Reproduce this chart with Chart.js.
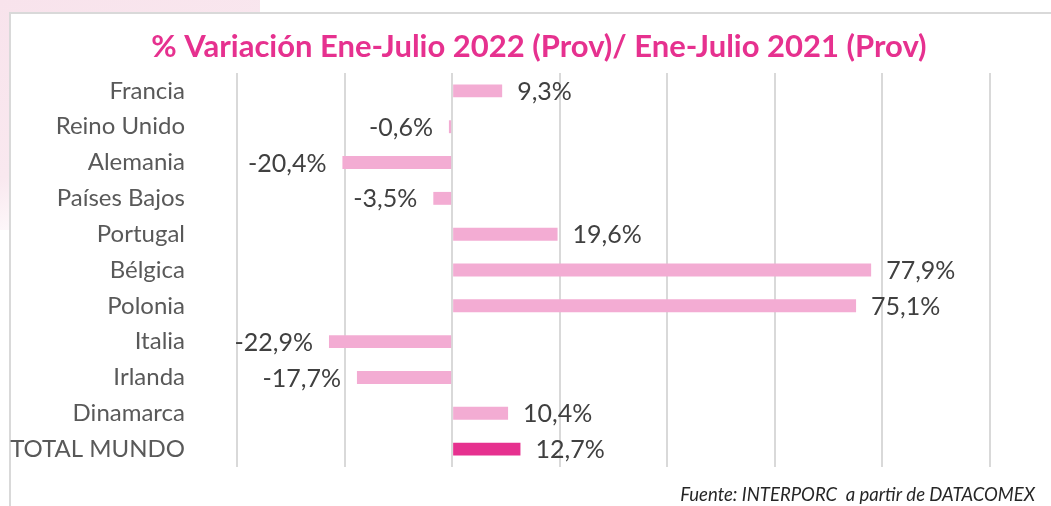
<!DOCTYPE html>
<html lang="es">
<head>
<meta charset="utf-8">
<title>% Variación Ene-Julio 2022 (Prov)/ Ene-Julio 2021 (Prov)</title>
<script src="https://cdn.jsdelivr.net/npm/chart.js@4.4.0/dist/chart.umd.min.js"></script>
<style>
  html, body {
    margin: 0;
    padding: 0;
    background: #ffffff;
  }
  #page {
    position: relative;
    width: 1051px;
    height: 506px;
    overflow: hidden;
    background: #ffffff;
  }
  /* franja rosa de fondo en la esquina superior izquierda */
  #fondo {
    position: absolute;
    left: 0;
    top: 0;
    width: 260px;
    height: 230px;
    background: linear-gradient(160deg, #f8e3ec 0%, #f9e8ef 55%, rgba(255,255,255,0) 80%);
  }
  #marco {
    position: absolute;
    left: 9px;
    top: 12px;
    right: -4px;
    bottom: -4px;
    background: #ffffff;
    border-left: 2px solid #d9d9d9;
    border-top: 2px solid #d9d9d9;
  }
  #grafico {
    position: absolute;
    left: 0;
    top: 0;
    width: 1051px;
    height: 506px;
  }
</style>
</head>
<body>
<div id="page">
  <div id="fondo"></div>
  <div id="marco"></div>
  <canvas id="grafico" width="1051" height="506"></canvas>
</div>
<script>
const paises = [
  "Francia",
  "Reino Unido",
  "Alemania",
  "Países Bajos",
  "Portugal",
  "Bélgica",
  "Polonia",
  "Italia",
  "Irlanda",
  "Dinamarca",
  "TOTAL MUNDO"
];

const variacion = [9.3, -0.6, -20.4, -3.5, 19.6, 77.9, 75.1, -22.9, -17.7, 10.4, 12.7];

const ejeMin = -40;
const ejeMax = 100;
const ejePaso = 20;

const titulo = "% Variación Ene-Julio 2022 (Prov)/ Ene-Julio 2021 (Prov)";
const fuente = "Fuente: INTERPORC  a partir de DATACOMEX";

const ROSA = "#f3acd3";
const MAGENTA = "#e6318f";

function formatoPorcentaje(valor) {
  return valor.toFixed(1).replace(".", ",") + "%";
}

// titulo centrado sobre la zona de las barras
const tituloGrafico = {
  id: "tituloGrafico",
  afterDraw(chart) {
    const ctx = chart.ctx;
    ctx.save();
    ctx.font = "bold 31px Lato";
    ctx.fillStyle = MAGENTA;
    ctx.textAlign = "center";
    ctx.textBaseline = "middle";
    ctx.fillText(titulo, 539, 47);
    ctx.restore();
  }
};

// etiquetas de valor al final de cada barra
const etiquetasValor = {
  id: "etiquetasValor",
  afterDatasetsDraw(chart) {
    const ctx = chart.ctx;
    const meta = chart.getDatasetMeta(0);

    ctx.save();
    ctx.font = "25px Lato";
    ctx.fillStyle = "#404040";
    ctx.textBaseline = "middle";

    meta.data.forEach((barra, i) => {
      const valor = variacion[i];
      if (valor >= 0) {
        ctx.textAlign = "left";
        ctx.fillText(formatoPorcentaje(valor), barra.x + 15, barra.y + 1);
      } else {
        ctx.textAlign = "right";
        ctx.fillText(formatoPorcentaje(valor), barra.x - 16, barra.y + 1);
      }
    });

    ctx.restore();
  }
};

// nota de la fuente abajo a la derecha
const notaFuente = {
  id: "notaFuente",
  afterDraw(chart) {
    const ctx = chart.ctx;
    ctx.save();
    ctx.font = "italic 18.5px Lato";
    ctx.fillStyle = "#262626";
    ctx.textAlign = "right";
    ctx.textBaseline = "alphabetic";
    ctx.fillText(fuente, 1035, 501);
    ctx.restore();
  }
};

const coloresBarras = paises.map((p) => (p === "TOTAL MUNDO" ? MAGENTA : ROSA));

new Chart(document.getElementById("grafico"), {
  type: "bar",
  data: {
    labels: paises,
    datasets: [
      {
        label: "% Variación",
        data: variacion,
        backgroundColor: coloresBarras,
        borderWidth: 0,
        categoryPercentage: 1,
        barPercentage: 0.36
      }
    ]
  },
  options: {
    indexAxis: "y",
    responsive: false,
    maintainAspectRatio: false,
    animation: false,
    layout: {
      autoPadding: false,
      padding: { left: 0, right: 61, top: 73, bottom: 39 }
    },
    plugins: {
      legend: { display: false },
      tooltip: { enabled: false },
      title: { display: false }
    },
    scales: {
      x: {
        min: ejeMin,
        max: ejeMax,
        afterFit(scale) {
          scale.height = 0;
        },
        ticks: { display: false, stepSize: ejePaso },
        grid: {
          color: "#d9d9d9",
          lineWidth: 2,
          drawTicks: false
        },
        border: { display: false }
      },
      y: {
        afterFit(scale) {
          // ancho fijo y sin relleno extra arriba/abajo por las etiquetas
          scale.width = 237;
          scale.paddingTop = 0;
          scale.paddingBottom = 0;
        },
        ticks: {
          color: "#595959",
          padding: 52,
          font: { family: "Lato", size: 24 }
        },
        grid: { display: false, drawTicks: false },
        border: { display: false }
      }
    }
  },
  plugins: [etiquetasValor, tituloGrafico, notaFuente]
});
</script>
</body>
</html>
